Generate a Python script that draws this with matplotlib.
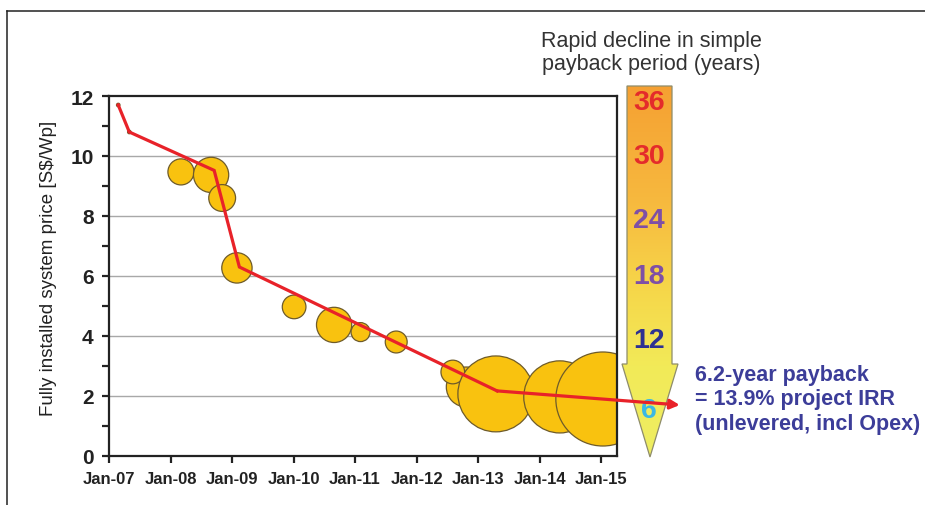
import matplotlib
matplotlib.use("Agg")
import matplotlib.pyplot as plt
import numpy as np
from matplotlib.patches import Polygon
from matplotlib.lines import Line2D
from matplotlib.colors import LinearSegmentedColormap

# Price trend line (decimal year, S$/Wp)
trend_year = [2007.15, 2007.33, 2008.71, 2009.12, 2013.31, 2016.28]
trend_price = [11.7, 10.8, 9.52, 6.3, 2.17, 1.7]

# Individual installations: date, price (S$/Wp), relative system size
bubble_year = [2007.15, 2007.33, 2008.17, 2008.66, 2008.84, 2009.08, 2010.01,
               2010.66, 2011.09, 2011.67, 2012.81, 2012.59, 2013.29, 2014.33, 2015.03]
bubble_price = [11.7, 10.8, 9.47, 9.37, 8.6, 6.27, 4.97,
                4.37, 4.13, 3.8, 2.3, 2.8, 2.07, 1.97, 1.9]
bubble_size = [0.03, 0.03, 1.7, 3.1, 1.8, 2.3, 1.4,
               3.1, 0.9, 1.2, 4.0, 1.4, 14.4, 13.0, 22.1]

x_ticks = [2007, 2008, 2009, 2010, 2011, 2012, 2013, 2014, 2015]
x_labels = ["Jan-07", "Jan-08", "Jan-09", "Jan-10", "Jan-11",
            "Jan-12", "Jan-13", "Jan-14", "Jan-15"]
y_major = [0, 2, 4, 6, 8, 10, 12]

# Payback-period scale shown on the arrow (years)
payback_labels = ["36", "30", "24", "18", "12", "6"]
payback_colors = ["#E42B2B", "#E42B2B", "#7E4FA6", "#7E4FA6", "#2E3192", "#3CB8E4"]

RED = "#E82229"
FONT = "Liberation Sans"

W, H = 925, 506
fig = plt.figure(figsize=(W / 100, H / 100), dpi=100)

# overlay in pixel coordinates for the payback arrow and annotations
ov = fig.add_axes([0, 0, 1, 1], zorder=0)
ov.set_xlim(0, W)
ov.set_ylim(H, 0)
ov.axis("off")

ax = fig.add_axes([109 / W, 1 - 457 / H, (617 - 109) / W, (457 - 97) / H], zorder=1)
ax.set_facecolor("white")

ax.set_xlim(2007.0, 2015.26)
ax.set_ylim(0, 12)

for y in y_major[1:-1]:
    ax.axhline(y, color="#A8A8A8", lw=1.0, zorder=0)

ax.scatter(bubble_year, bubble_price, s=np.array(bubble_size) * 207.36,
           facecolor="#F9C20F", edgecolor="#6E5B2A", linewidths=0.9, zorder=2)

ax.plot(trend_year[:-1], trend_price[:-1], color=RED, lw=2.3, zorder=3,
        solid_joinstyle="miter", clip_on=False)
ax.annotate("", xy=(trend_year[-1], trend_price[-1]),
            xytext=(trend_year[-2], trend_price[-2]),
            arrowprops=dict(arrowstyle="-|>,head_length=0.55,head_width=0.28",
                            color=RED, lw=2.3, shrinkA=0, shrinkB=0),
            annotation_clip=False, zorder=3)

ax.set_xticks(x_ticks)
ax.set_xticklabels(x_labels, fontsize=12, fontweight="bold", family=FONT, color="#222222")
ax.set_yticks(y_major)
ax.set_yticks(range(1, 12, 2), minor=True)
ax.set_yticklabels([str(v) for v in y_major], fontsize=15, fontweight="bold",
                   family=FONT, color="#222222")
ax.tick_params(axis="both", which="both", direction="out", length=5, width=1.6,
               color="#222222")
ax.tick_params(axis="x", pad=6)
ax.tick_params(axis="y", pad=6)
for sp in ax.spines.values():
    sp.set_linewidth(1.6)
    sp.set_color("#222222")

ax.set_ylabel("Fully installed system price [S$/Wp]", fontsize=13.5, family=FONT,
              color="#222222")
ax.yaxis.set_label_coords(-0.102, 0.525)

# figure frame (top and left edges)
ov.add_line(Line2D([7, W], [12, 12], color="#222222", lw=1.1))
ov.add_line(Line2D([7, 7], [12, H], color="#222222", lw=1.1))

ov.text(651, 53, "Rapid decline in simple\npayback period (years)", ha="center",
        va="center", fontsize=15.5, family=FONT, color="#333333", linespacing=1.15)

# gradient arrow
arrow_pts = [(627, 87), (672, 87), (672, 365), (678, 365), (650, 458),
             (622, 365), (627, 365)]
poly = Polygon(arrow_pts, closed=True, facecolor="none", edgecolor="#8E8C6A",
               lw=0.9, zorder=3)
ov.add_patch(poly)
cmap = LinearSegmentedColormap.from_list(
    "payback", [(0.0, "#F5A032"), (0.3, "#F7B83E"), (0.55, "#F6D74A"),
                (0.75, "#F2EA58"), (1.0, "#EEEE62")])
grad = np.linspace(0, 1, 256).reshape(-1, 1)
im = ov.imshow(grad, cmap=cmap, extent=[620, 680, 460, 86], origin="upper",
               aspect="auto", zorder=2)
clip = Polygon(arrow_pts, closed=True, transform=ov.transData)
im.set_clip_path(clip)

for lab, col, y in zip(payback_labels, payback_colors, [103, 157, 221, 277, 341, 411]):
    ov.text(649, y, lab, ha="center", va="center", fontsize=20.5, fontweight="bold",
            family=FONT, color=col, zorder=4)

ov.text(695, 400, "6.2-year payback\n= 13.9% project IRR\n(unlevered, incl Opex)",
        ha="left", va="center", fontsize=15.5, fontweight="bold", family=FONT,
        color="#3C3D99", linespacing=1.22)

fig.savefig("out.png", dpi=100)
